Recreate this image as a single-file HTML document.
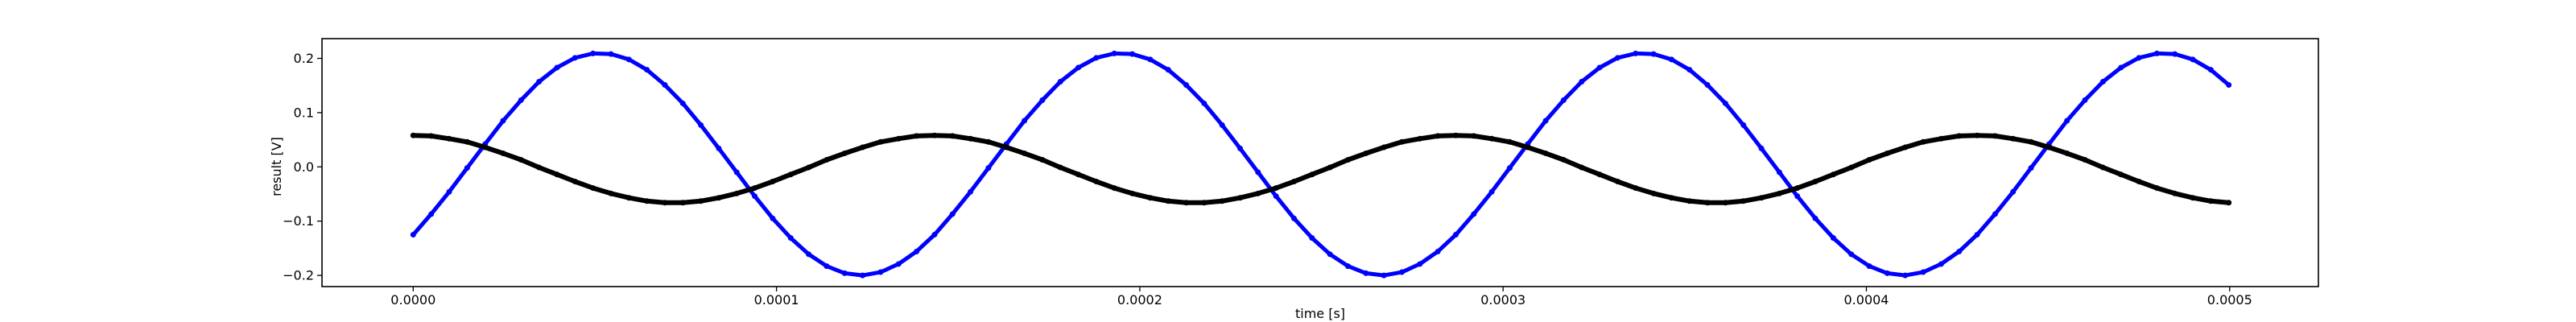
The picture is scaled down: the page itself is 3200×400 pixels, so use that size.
<!DOCTYPE html>
<html><head><meta charset="utf-8"><style>
html,body{margin:0;padding:0;background:#fff;}
svg{display:block;font-family:"DejaVu Sans","Liberation Sans",sans-serif;}
</style></head><body>
<svg id="chart" width="3200" height="400" xmlns="http://www.w3.org/2000/svg">
<rect x="0" y="0" width="3200" height="400" fill="#fff"/>
<g id="plot"></g>
<rect x="400" y="48" width="2480" height="308" fill="none" stroke="#000" stroke-width="1.6"/>
<g id="axes"></g>
<text x="1640" y="395" font-size="16" text-anchor="middle">time [s]</text>
<text transform="translate(349,207) rotate(-90)" font-size="16" text-anchor="middle">result [V]</text>
</svg>
<script>
const blueCycle = [-0.125,-0.087,-0.046,-0.002,0.042,0.085,0.123,0.157,0.183,0.201,0.209,0.208,0.198,0.179,0.151,0.117,0.077,0.034,-0.010,-0.054,-0.095,-0.131,-0.161,-0.183,-0.196,-0.200,-0.194,-0.179,-0.156];
const blackCycle = [0.058,0.057,0.052,0.046,0.036,0.025,0.013,-0.001,-0.014,-0.027,-0.039,-0.049,-0.057,-0.063,-0.066,-0.066,-0.063,-0.057,-0.049,-0.039,-0.027,-0.014,-0.001,0.013,0.025,0.036,0.046,0.052,0.057];
const timeStep = 0.000004948;
const sampleCount = 102;
const blueValues = [];
const blackValues = [];
for (let i = 0; i < sampleCount; i++) { blueValues.push(blueCycle[i % 29]); blackValues.push(blackCycle[i % 29]); }
const times = [];
for (let i = 0; i < sampleCount; i++) times.push(i * timeStep);
const xTicks = [0, 0.0001, 0.0002, 0.0003, 0.0004, 0.0005];
const xTickLabels = ["0.0000","0.0001","0.0002","0.0003","0.0004","0.0005"];
const yTicks = [-0.2, -0.1, 0.0, 0.1, 0.2];
const yTickLabels = ["\u22120.2","\u22120.1","0.0","0.1","0.2"];

const NS = "http://www.w3.org/2000/svg";
function xs(t){ return 513.3 + t / 0.0001 * 451.3; }
function ys(v){ return 207.3 - v / 0.1 * 67.4; }
const plot = document.getElementById('plot');
const axes = document.getElementById('axes');

function series(vals, color, r, w, name){
  const g = document.createElementNS(NS,'g');
  
  
  const pl = document.createElementNS(NS,'polyline');
  
  
  pl.setAttribute('points', vals.map((v,i)=>xs(times[i]).toFixed(1)+','+ys(v).toFixed(1)).join(' '));
  pl.setAttribute('fill','none'); pl.setAttribute('stroke',color);
  pl.setAttribute('stroke-width',w); pl.setAttribute('stroke-linejoin','round'); pl.setAttribute('stroke-linecap','round');
  g.appendChild(pl);
  vals.forEach((v,i)=>{
    const c = document.createElementNS(NS,'circle');
    
    
    c.setAttribute('cx', xs(times[i])); c.setAttribute('cy', ys(v)); c.setAttribute('r', r);
    c.setAttribute('fill', color);
    g.appendChild(c);
  });
  plot.appendChild(g);
}
series(blueValues, '#0000ff', 3.5, 5, 'blue-series');
series(blackValues, '#000000', 3.5, 6, 'black-series');

xTicks.forEach((t,i)=>{
  const l = document.createElementNS(NS,'line');
  
  
  l.setAttribute('x1', xs(t)); l.setAttribute('x2', xs(t)); l.setAttribute('y1', 356); l.setAttribute('y2', 362);
  l.setAttribute('stroke','#000'); l.setAttribute('stroke-width','1.3');
  axes.appendChild(l);
  const tx = document.createElementNS(NS,'text');
  
  
  tx.setAttribute('x', xs(t)); tx.setAttribute('y', 378); tx.setAttribute('font-size','16'); tx.setAttribute('text-anchor','middle');
  tx.textContent = xTickLabels[i];
  axes.appendChild(tx);
});
yTicks.forEach((v,i)=>{
  const l = document.createElementNS(NS,'line');
  
  
  l.setAttribute('x1', 394); l.setAttribute('x2', 400); l.setAttribute('y1', ys(v)); l.setAttribute('y2', ys(v));
  l.setAttribute('stroke','#000'); l.setAttribute('stroke-width','1.3');
  axes.appendChild(l);
  const tx = document.createElementNS(NS,'text');
  
  
  tx.setAttribute('x', 390); tx.setAttribute('y', ys(v)+5.5); tx.setAttribute('font-size','16'); tx.setAttribute('text-anchor','end');
  tx.textContent = yTickLabels[i];
  axes.appendChild(tx);
});
</script>
</body></html>
